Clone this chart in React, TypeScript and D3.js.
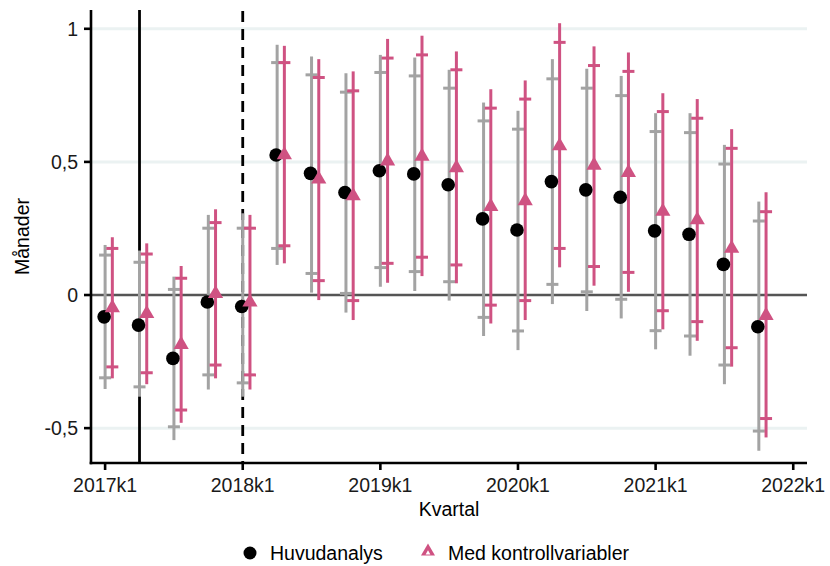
import React from "react";
import * as d3 from "d3";

const quarterIdx = d3.range(20);
const xTickLabels = ["2017k1", "2018k1", "2019k1", "2020k1", "2021k1", "2022k1"];
const xTickPos = [0, 4, 8, 12, 16, 20];
const yTicks = [-0.5, 0, 0.5, 1];

const hu = [-0.082, -0.113, -0.238, -0.026, -0.043, 0.526, 0.457, 0.385, 0.467, 0.455, 0.414, 0.286, 0.244, 0.426, 0.395, 0.367, 0.241, 0.228, 0.115, -0.119];
const huLo95 = [-0.353, -0.382, -0.545, -0.355, -0.382, 0.113, 0.009, -0.066, 0.031, 0.015, -0.021, -0.154, -0.207, -0.034, -0.06, -0.088, -0.204, -0.228, -0.335, -0.585];
const huHi95 = [0.188, 0.167, 0.069, 0.301, 0.307, 0.94, 0.896, 0.833, 0.902, 0.892, 0.846, 0.723, 0.692, 0.886, 0.85, 0.823, 0.683, 0.683, 0.564, 0.351];
const huLo90 = [-0.311, -0.345, -0.495, -0.3, -0.33, 0.175, 0.081, 0.006, 0.103, 0.088, 0.05, -0.084, -0.135, 0.04, 0.012, -0.016, -0.134, -0.154, -0.263, -0.511];
const huHi90 = [0.15, 0.123, 0.021, 0.251, 0.251, 0.873, 0.827, 0.762, 0.836, 0.823, 0.777, 0.654, 0.623, 0.812, 0.777, 0.749, 0.614, 0.61, 0.492, 0.278];

const kv = [-0.048, -0.07, -0.186, 0.005, -0.027, 0.526, 0.435, 0.372, 0.503, 0.521, 0.478, 0.332, 0.354, 0.56, 0.487, 0.46, 0.314, 0.282, 0.175, -0.077];
const kvLo95 = [-0.313, -0.335, -0.48, -0.313, -0.355, 0.119, -0.019, -0.094, 0.046, 0.071, 0.044, -0.107, -0.094, 0.104, 0.035, 0.012, -0.129, -0.172, -0.269, -0.535];
const kvHi95 = [0.217, 0.194, 0.109, 0.322, 0.301, 0.936, 0.886, 0.84, 0.962, 0.974, 0.915, 0.773, 0.806, 1.021, 0.934, 0.911, 0.758, 0.736, 0.623, 0.386];
const kvLo90 = [-0.27, -0.292, -0.432, -0.263, -0.3, 0.185, 0.054, -0.021, 0.119, 0.142, 0.113, -0.038, -0.021, 0.175, 0.107, 0.085, -0.059, -0.1, -0.198, -0.464];
const kvHi90 = [0.175, 0.154, 0.063, 0.272, 0.251, 0.873, 0.817, 0.767, 0.89, 0.902, 0.846, 0.702, 0.736, 0.949, 0.862, 0.84, 0.689, 0.664, 0.551, 0.313];

const vlineSolid = 1;
const vlineDashed = 4;

const GRAY = "#a3a3a3";
const PINK = "#cf5282";
const FONT = "'Liberation Sans', Arial, sans-serif";

export default function App() {
  const W = 830, H = 566;
  const left = 91, right = 807, top = 10, bottom = 463;
  const x = d3.scaleLinear().domain([-0.41, 20.4]).range([left, right]);
  const y = d3.scaleLinear().domain([-0.631, 1.0706]).range([bottom, top]);
  const dodge = 0.21;
  const tickHalf = 6;
  const tri = d3.symbol().type(d3.symbolTriangle).size(100)();
  const triLeg = d3.symbol().type(d3.symbolTriangle).size(85)();
  const triLegInner = d3.symbol().type(d3.symbolTriangle).size(10)();

  return (
    <svg width={W} height={H} style={{ position: "absolute", left: 0, top: 0, background: "#fff" }}>
      <rect width={W} height={H} fill="#fff" />
      {yTicks.filter((t) => t !== 0).map((t) => (
        <line key={t} x1={left} x2={right} y1={y(t)} y2={y(t)} stroke="#ebf2f2" strokeWidth={3} />
      ))}
      <line x1={x(vlineSolid)} x2={x(vlineSolid)} y1={top} y2={bottom} stroke="#000" strokeWidth={2.8} />
      <line x1={x(vlineDashed)} x2={x(vlineDashed)} y1={top + 1} y2={bottom} stroke="#000" strokeWidth={2.8} strokeDasharray="11 7" />
      <line x1={left} x2={right} y1={y(0)} y2={y(0)} stroke="#555" strokeWidth={2.6} />
      {quarterIdx.map((q) => {
        const cx = x(q);
        return (
          <g key={"g" + q}>
            <line x1={cx} x2={cx} y1={y(huLo95[q])} y2={y(huHi95[q])} stroke={GRAY} strokeWidth={3} />
            <line x1={cx - tickHalf} x2={cx + tickHalf} y1={y(huLo90[q])} y2={y(huLo90[q])} stroke={GRAY} strokeWidth={3} />
            <line x1={cx - tickHalf} x2={cx + tickHalf} y1={y(huHi90[q])} y2={y(huHi90[q])} stroke={GRAY} strokeWidth={3} />
          </g>
        );
      })}
      {quarterIdx.map((q) => {
        const cx = x(q + dodge);
        return (
          <g key={"p" + q}>
            <line x1={cx} x2={cx} y1={y(kvLo95[q])} y2={y(kvHi95[q])} stroke={PINK} strokeWidth={3} />
            <line x1={cx - tickHalf} x2={cx + tickHalf} y1={y(kvLo90[q])} y2={y(kvLo90[q])} stroke={PINK} strokeWidth={3} />
            <line x1={cx - tickHalf} x2={cx + tickHalf} y1={y(kvHi90[q])} y2={y(kvHi90[q])} stroke={PINK} strokeWidth={3} />
          </g>
        );
      })}
      {quarterIdx.map((q) => (
        <circle key={"c" + q} cx={x(q) - 1} cy={y(hu[q])} r={6.8} fill="#000" />
      ))}
      {quarterIdx.map((q) => (
        <path key={"t" + q} d={tri} transform={`translate(${x(q + dodge)},${y(kv[q])})`} fill={PINK} />
      ))}
      <line x1={left} x2={left} y1={top} y2={bottom + 1.3} stroke="#000" strokeWidth={2.6} />
      <line x1={left - 1.3} x2={right} y1={bottom} y2={bottom} stroke="#000" strokeWidth={2.6} />
      {yTicks.map((t) => (
        <g key={"yt" + t}>
          <line x1={left - 7} x2={left} y1={y(t)} y2={y(t)} stroke="#000" strokeWidth={2.6} />
          <text x={left - 13} y={y(t)} dy="0.36em" textAnchor="end" fontFamily={FONT} fontSize={19.5} fill="#1a1a1a">
            {String(t).replace(".", ",")}
          </text>
        </g>
      ))}
      {xTickPos.map((p, i) => (
        <g key={"xt" + p}>
          <line x1={x(p)} x2={x(p)} y1={bottom} y2={bottom + 7} stroke="#000" strokeWidth={2.6} />
          <text x={x(p)} y={bottom + 29} textAnchor="middle" fontFamily={FONT} fontSize={19.5} fill="#1a1a1a">
            {xTickLabels[i]}
          </text>
        </g>
      ))}
      <text x={(left + right) / 2} y={bottom + 53} textAnchor="middle" fontFamily={FONT} fontSize={19.5} fill="#000">
        Kvartal
      </text>
      <text transform={`translate(29,${(top + bottom) / 2}) rotate(-90)`} textAnchor="middle" fontFamily={FONT} fontSize={19.5} fill="#000">
        Månader
      </text>
      <circle cx={250} cy={553} r={6.5} fill="#000" />
      <text x={270} y={560} fontFamily={FONT} fontSize={19.5} fill="#000">Huvudanalys</text>
      <path d={triLeg} transform="translate(428,551.5)" fill={PINK} />
      <path d={triLegInner} transform="translate(428,553)" fill="#fff" />
      <text x={448} y={560} fontFamily={FONT} fontSize={19.5} fill="#000">Med kontrollvariabler</text>
    </svg>
  );
}
